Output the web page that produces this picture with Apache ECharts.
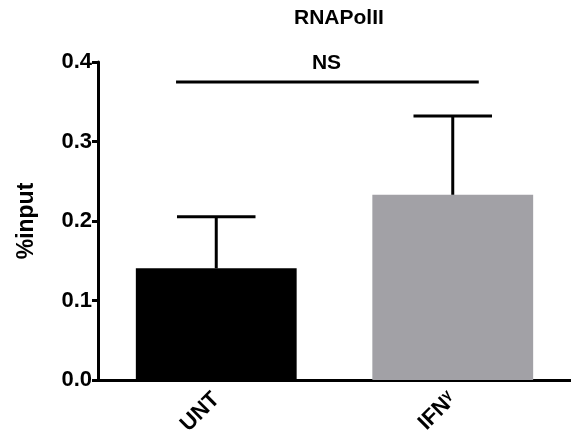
<!DOCTYPE html>
<html><head><meta charset="utf-8">
<script src="https://cdn.jsdelivr.net/npm/echarts@6/dist/echarts.min.js"></script>
<style>html,body{margin:0;padding:0;background:#fff}#c{width:571px;height:439px}</style>
</head><body><div id="c"></div>
<script>
const categories = ['UNT', 'IFNγ'];
const means = [0.1405, 0.233];
const errors = [0.065, 0.099];
const barColors = ['#000000', '#a2a1a6'];
const yTicks = [0, 0.1, 0.2, 0.3, 0.4];
const sigLevel = 0.375;
const sigLabel = 'NS';

const chart = echarts.init(document.getElementById('c'));
const font = 'Arial, "Liberation Sans", sans-serif';
chart.setOption({
  animation: false,
  title: { text: 'RNAPolII', left: 289, top: 3, textStyle: { fontFamily: font, fontSize: 21, fontWeight: 'bold', color: '#000' } },
  grid: { left: 98, width: 479, top: 62, bottom: 59 },
  xAxis: {
    type: 'category', data: categories,
    axisLine: { lineStyle: { color: '#000', width: 3 } },
    axisTick: { alignWithLabel: true, length: 8, lineStyle: { color: '#000', width: 3 } },
    axisLabel: {
      rotate: 45, margin: 16, color: '#000', fontFamily: font, fontSize: 22, fontWeight: 'bold',
      formatter: v => v === 'IFNγ' ? '{a|IFN}{g|γ}' : '{a|' + v + '}',
      rich: { a: { fontFamily: font, fontSize: 22, fontWeight: 'bold', color: '#000' },
              g: { fontFamily: font, fontSize: 14, color: '#000', verticalAlign: 'top', padding: [0,0,10,0] } }
    }
  },
  yAxis: {
    type: 'value', min: 0, max: 0.4, interval: 0.1,
    name: '%input', nameLocation: 'middle', nameGap: 60, nameRotate: 90,
    nameTextStyle: { fontFamily: font, fontSize: 23, fontWeight: 'bold', color: '#000' },
    splitLine: { show: false },
    axisLine: { show: true, lineStyle: { color: '#000', width: 3 } },
    axisTick: { show: true, length: 6, lineStyle: { color: '#000', width: 3 } },
    axisLabel: { color: '#000', fontFamily: font, fontSize: 22, fontWeight: 'bold', margin: 6,
      formatter: v => yTicks.includes(+v.toFixed(1)) ? v.toFixed(1) : '' }
  },
  series: [
    {
      type: 'bar', barWidth: '68%',
      data: means.map((m, i) => ({ value: m, itemStyle: { color: barColors[i] } })),
      z: 2
    },
    {
      type: 'custom', z: 3,
      data: means.map((m, i) => [i, m, m + errors[i]]),
      renderItem: (params, api) => {
        const x = api.value(0);
        const p0 = api.coord([x, api.value(1)]);
        const p1 = api.coord([x, api.value(2)]);
        const half = api.size([1, 0])[0] * 0.166;
        return { type: 'group', children: [
          { type: 'line', shape: { x1: p0[0], y1: p0[1], x2: p1[0], y2: p1[1] }, style: { stroke: '#000', lineWidth: 3 } },
          { type: 'line', shape: { x1: p1[0] - half, y1: p1[1], x2: p1[0] + half, y2: p1[1] }, style: { stroke: '#000', lineWidth: 3 } }
        ]};
      }
    },
    {
      type: 'custom', z: 3,
      data: [[0, 1, sigLevel]],
      renderItem: (params, api) => {
        const a = api.coord([api.value(0), api.value(2)]);
        const b = api.coord([api.value(1), api.value(2)]);
        const bw = api.size([1, 0])[0];
        return { type: 'group', children: [
          { type: 'line', shape: { x1: a[0] - bw * 0.17, y1: a[1], x2: b[0] + bw * 0.11, y2: b[1] }, style: { stroke: '#000', lineWidth: 3 } },
          { type: 'text', style: { text: sigLabel, x: (a[0] + b[0]) / 2 - 8, y: a[1] - 8, align: 'center', verticalAlign: 'bottom',
            fill: '#000', font: 'bold 21px Arial, "Liberation Sans", sans-serif' } }
        ]};
      }
    }
  ]
});
</script></body></html>
